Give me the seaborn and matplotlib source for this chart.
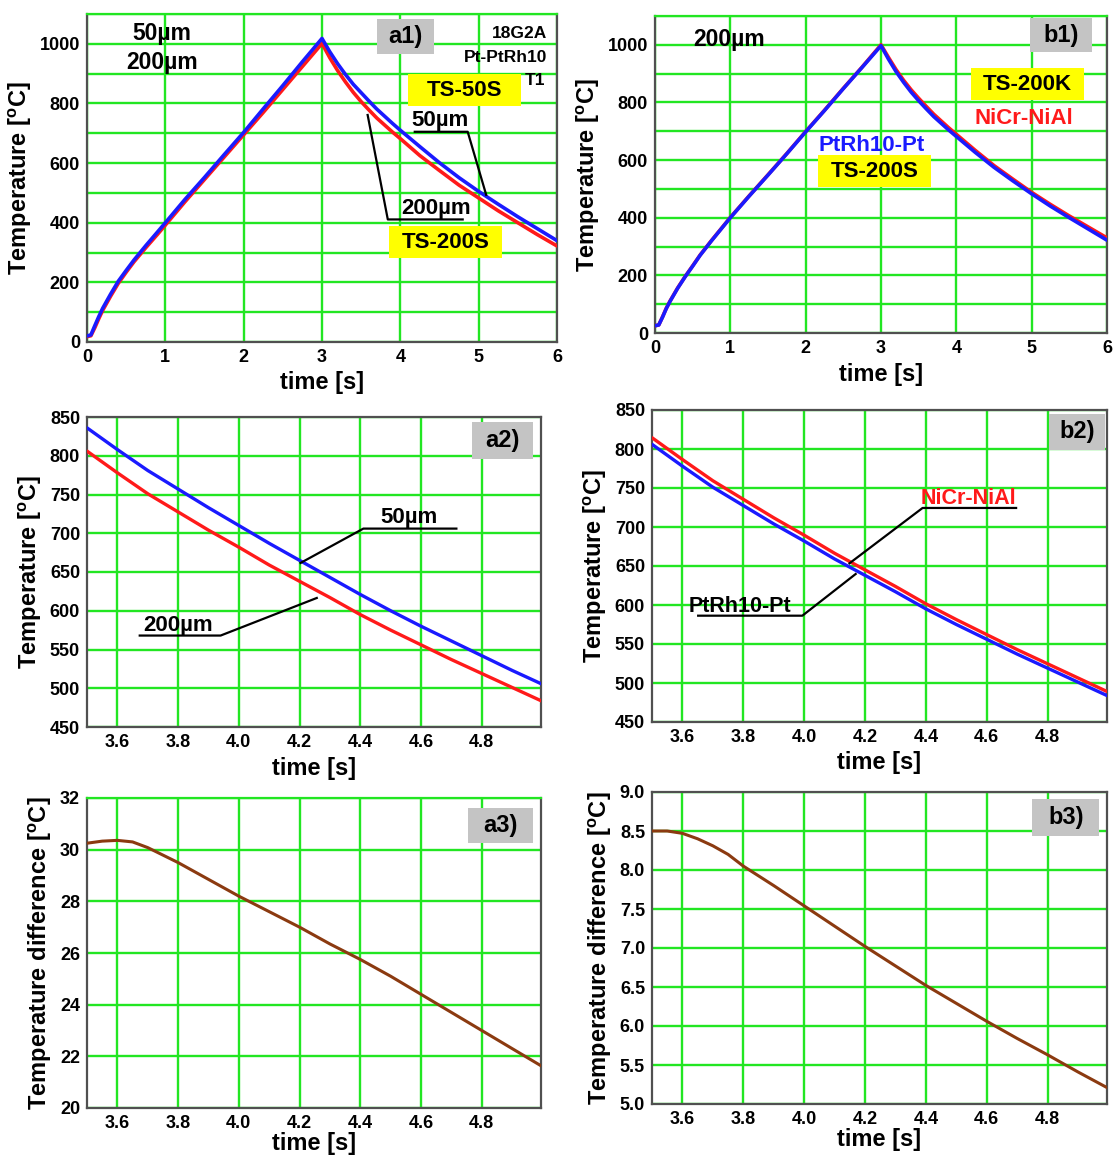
import numpy as np
import pandas as pd
import matplotlib
matplotlib.use("Agg")
import matplotlib.pyplot as plt
from matplotlib.ticker import MultipleLocator, FixedLocator, FormatStrFormatter
from matplotlib.patches import Rectangle
import seaborn as sns

sns.set_theme(style="white")
plt.rcParams['font.family'] = ['Liberation Sans', 'DejaVu Sans']
plt.rcParams['font.weight'] = 'bold'
plt.rcParams['axes.labelweight'] = 'bold'
plt.rcParams['text.color'] = 'black'
plt.rcParams['axes.labelcolor'] = 'black'
plt.rcParams['xtick.color'] = 'black'
plt.rcParams['ytick.color'] = 'black'
plt.rcParams['mathtext.fontset'] = 'custom'
plt.rcParams['mathtext.rm'] = 'Liberation Sans:bold'
plt.rcParams['mathtext.bf'] = 'Liberation Sans:bold'
plt.rcParams['mathtext.it'] = 'Liberation Sans:bold'

# ---------------- data ----------------
# full heating / cooling cycle (panels a1, b1)
time_full = [0, 0.05, 0.1, 0.15, 0.2, 0.3, 0.4, 0.5, 0.6, 0.75, 0.9, 1.0, 1.25, 1.5, 1.75,
             2.0, 2.25, 2.5, 2.75, 3.0, 3.1, 3.2, 3.3, 3.4, 3.5, 3.6, 3.7, 3.8, 3.9, 4.0,
             4.25, 4.5, 4.75, 5.0, 5.25, 5.5, 5.75, 6.0]
a1_ts50s = [20, 24, 55, 85, 113, 160, 204, 240, 275, 323, 369, 400, 478, 552, 628,
            703, 782, 860, 940, 1018, 973, 933, 897, 864, 836, 808, 781, 757, 733, 710,
            655, 601, 551, 505, 462, 420, 380, 340]
a1_ts200s = [18, 21, 48, 78, 106, 153, 197, 234, 269, 316, 361, 392, 470, 545, 620,
             695, 770, 847, 924, 1001, 953, 910, 872, 837, 806, 778, 751, 727.5, 704, 682,
             625, 575, 526, 483, 440, 400, 360, 322]
b1_ts200s = [25, 28, 55, 85, 110, 155, 195, 232, 270, 320, 368, 400, 475, 548, 622,
             698, 772, 848, 922, 997, 950, 907, 870, 836, 806, 778, 751, 727.5, 704, 682,
             627, 575, 528, 483, 440, 400, 361, 322]
b1_ts200k = [25, 28, 56, 86, 111, 156, 196, 233, 271, 321, 369, 401, 476, 549, 623,
             699, 773, 849, 923, 1000, 956, 914, 877, 844, 814.5, 786.5, 759.3, 735.5, 711.8, 689.5,
             634, 581, 534, 488, 446, 406, 368, 330]

# zoomed cooling range (panels a2, b2)
time_zoom = [3.5, 3.6, 3.7, 3.8, 3.9, 4.0, 4.1, 4.2, 4.3, 4.4, 4.5, 4.6, 4.7, 4.8, 4.9, 5.0]
a2_50um = [836, 808, 781, 757, 733, 710, 687, 665, 643, 621, 600, 580, 561, 542, 523, 505]
a2_200um = [806, 778, 751, 727.5, 704, 682, 659, 638, 617, 595, 575, 556, 537, 519, 501, 483]
b2_ptrh = [806, 778, 751, 727.5, 704, 682, 659, 638, 617, 595, 575, 556, 537, 519, 501, 483]
b2_nicr = [814.5, 786.5, 759.3, 735.5, 711.8, 689.5, 666.3, 645, 623.8, 601.5, 581.3, 562,
           542.8, 524.6, 506.4, 488.2]

# temperature differences (panels a3, b3)
time_a3 = [3.5, 3.55, 3.6, 3.65, 3.7, 3.8, 3.9, 4.0, 4.1, 4.2, 4.3, 4.4, 4.5, 4.6, 4.7, 4.8, 4.9, 5.0]
a3_diff = [30.25, 30.33, 30.36, 30.3, 30.08, 29.5, 28.85, 28.2, 27.6, 27.0, 26.35, 25.75,
           25.1, 24.4, 23.7, 23.0, 22.3, 21.6]
time_b3 = [3.5, 3.55, 3.6, 3.65, 3.7, 3.75, 3.8, 3.9, 4.0, 4.1, 4.2, 4.3, 4.4, 4.5, 4.6, 4.7, 4.8, 4.9, 5.0]
b3_diff = [8.5, 8.5, 8.47, 8.4, 8.31, 8.2, 8.05, 7.8, 7.54, 7.28, 7.02, 6.77, 6.52, 6.29,
           6.06, 5.84, 5.63, 5.41, 5.2]

# tick labels
full_xticks = [0, 1, 2, 3, 4, 5, 6]
full_yticks = [0, 200, 400, 600, 800, 1000]
zoom_xticks = [3.6, 3.8, 4.0, 4.2, 4.4, 4.6, 4.8]
zoom_yticks = [450, 500, 550, 600, 650, 700, 750, 800, 850]
a3_yticks = [20, 22, 24, 26, 28, 30, 32]
b3_yticks = [5.0, 5.5, 6.0, 6.5, 7.0, 7.5, 8.0, 8.5, 9.0]

# ---------------- styling ----------------
GRID = '#22e622'
SPINE = '#505050'
BLUE = '#1a1aff'
RED = '#ff1a1a'
BROWN = '#8b3a10'
YEL = '#ffff00'
GRAY = '#c4c4c4'
TICK_FS = 13
LAB_FS = 17
TEMP_LABEL = r'Temperature [$^{\mathbf{o}}$C]'
DIFF_LABEL = r'Temperature difference [$^{\mathbf{o}}$C]'

fig = plt.figure(figsize=(11.15, 11.6), dpi=100)
W, H = 1115.0, 1160.0


def axes_px(l, r, t, b):
    return fig.add_axes([l / W, 1 - b / H, (r - l) / W, (b - t) / H])


def style(ax, xlim, ylim, xticks, yticks, yminor=None, fmt_x=None, fmt_y=None, top_green=False):
    ax.set_xlim(*xlim)
    ax.set_ylim(*ylim)
    ax.xaxis.set_major_locator(FixedLocator(xticks))
    ax.yaxis.set_major_locator(FixedLocator(yticks))
    if yminor:
        ax.yaxis.set_minor_locator(MultipleLocator(yminor))
    if fmt_x:
        ax.xaxis.set_major_formatter(FormatStrFormatter(fmt_x))
    if fmt_y:
        ax.yaxis.set_major_formatter(FormatStrFormatter(fmt_y))
    ax.grid(which='both', color=GRID, lw=1.7)
    ax.set_axisbelow(True)
    ax.tick_params(which='both', length=0, labelsize=TICK_FS, pad=5, colors='black')
    for lab in ax.get_xticklabels() + ax.get_yticklabels():
        lab.set_fontweight('bold')
    for s in ax.spines.values():
        s.set_color(SPINE)
        s.set_linewidth(1.6)
        s.set_visible(True)
    if top_green:
        ax.spines['top'].set_color(GRID)
    ax.set_facecolor('white')


def box(ax, x0, x1, y0, y1, color, text, fs, tcolor='black'):
    ax.add_patch(Rectangle((x0, y0), x1 - x0, y1 - y0, facecolor=color, edgecolor='none', zorder=4))
    ax.text((x0 + x1) / 2, (y0 + y1) / 2, text, ha='center', va='center', fontsize=fs,
            fontweight='bold', color=tcolor, zorder=5)


def leader(ax, pts):
    xs = [p[0] for p in pts]
    ys = [p[1] for p in pts]
    ax.plot(xs, ys, color='black', lw=1.6, zorder=5, solid_capstyle='butt')


# ---------------- a1 ----------------
ax = axes_px(87, 557, 14, 342)
sns.lineplot(x=time_full, y=a1_ts200s, ax=ax, color=RED, lw=2.6, zorder=3)
sns.lineplot(x=time_full, y=a1_ts50s, ax=ax, color=BLUE, lw=2.6, zorder=3)
style(ax, (0, 6), (0, 1100), full_xticks, full_yticks, yminor=100, top_green=True)
ax.set_xlabel('time [s]', fontsize=LAB_FS, fontweight='bold')
ax.set_ylabel(TEMP_LABEL, fontsize=LAB_FS, fontweight='bold')
ax.text(0.96, 1035, '50µm', ha='center', va='center', fontsize=16.5, fontweight='bold')
ax.text(0.96, 939, '200µm', ha='center', va='center', fontsize=16.5, fontweight='bold')
box(ax, 3.70, 4.43, 965, 1083, GRAY, 'a1)', 17)
ax.text(5.87, 1035, '18G2A', ha='right', va='center', fontsize=12.5, fontweight='bold')
ax.text(5.87, 954, 'Pt-PtRh10', ha='right', va='center', fontsize=12.5, fontweight='bold')
ax.text(5.85, 877, 'T1', ha='right', va='center', fontsize=12.5, fontweight='bold')
box(ax, 4.10, 5.54, 790, 898, YEL, 'TS-50S', 16)
ax.text(4.51, 744, '50µm', ha='center', va='center', fontsize=16, fontweight='bold', zorder=5)
leader(ax, [(4.17, 705), (4.86, 705), (5.10, 490)])
ax.text(4.45, 448, '200µm', ha='center', va='center', fontsize=16, fontweight='bold', zorder=5)
leader(ax, [(4.81, 411), (3.84, 411), (3.58, 765)])
box(ax, 3.85, 5.30, 281, 388, YEL, 'TS-200S', 16)

# ---------------- b1 ----------------
ax = axes_px(655, 1107, 16, 333)
sns.lineplot(x=time_full, y=b1_ts200k, ax=ax, color=RED, lw=2.6, zorder=3)
sns.lineplot(x=time_full, y=b1_ts200s, ax=ax, color=BLUE, lw=2.6, zorder=3)
style(ax, (0, 6), (0, 1100), full_xticks, full_yticks, yminor=100, top_green=True)
ax.set_xlabel('time [s]', fontsize=LAB_FS, fontweight='bold')
ax.set_ylabel(TEMP_LABEL, fontsize=LAB_FS, fontweight='bold')
ax.text(0.98, 1017, '200µm', ha='center', va='center', fontsize=16.5, fontweight='bold')
box(ax, 4.98, 5.80, 975, 1093, GRAY, 'b1)', 17)
box(ax, 4.20, 5.69, 808, 919, YEL, 'TS-200K', 16)
ax.text(4.89, 744, 'NiCr-NiAl', ha='center', va='center', fontsize=16, fontweight='bold', color=RED, zorder=5)
ax.text(2.88, 651, 'PtRh10-Pt', ha='center', va='center', fontsize=16, fontweight='bold', color=BLUE, zorder=5)
box(ax, 2.17, 3.66, 506, 616, YEL, 'TS-200S', 16)

# ---------------- a2 ----------------
ax = axes_px(87, 541, 417, 727)
sns.lineplot(x=time_zoom, y=a2_200um, ax=ax, color=RED, lw=2.4, zorder=3)
sns.lineplot(x=time_zoom, y=a2_50um, ax=ax, color=BLUE, lw=2.4, zorder=3)
style(ax, (3.5, 4.995), (450, 850), zoom_xticks, zoom_yticks, fmt_x='%.1f')
ax.set_xlabel('time [s]', fontsize=LAB_FS, fontweight='bold')
ax.set_ylabel(TEMP_LABEL, fontsize=LAB_FS, fontweight='bold')
box(ax, 4.767, 4.97, 796, 843, GRAY, 'a2)', 17)
ax.text(4.56, 720, '50µm', ha='center', va='center', fontsize=16, fontweight='bold', zorder=5)
leader(ax, [(4.72, 706), (4.41, 706), (4.20, 661)])
ax.text(3.80, 581, '200µm', ha='center', va='center', fontsize=16, fontweight='bold', zorder=5)
leader(ax, [(3.67, 568), (3.94, 568), (4.26, 617)])

# ---------------- b2 ----------------
ax = axes_px(652, 1107, 410, 722)
sns.lineplot(x=time_zoom, y=b2_nicr, ax=ax, color=RED, lw=2.4, zorder=3)
sns.lineplot(x=time_zoom, y=b2_ptrh, ax=ax, color=BLUE, lw=2.4, zorder=3)
style(ax, (3.5, 4.995), (450, 850), zoom_xticks, zoom_yticks, fmt_x='%.1f')
ax.set_xlabel('time [s]', fontsize=LAB_FS, fontweight='bold')
ax.set_ylabel(TEMP_LABEL, fontsize=LAB_FS, fontweight='bold')
box(ax, 4.806, 4.987, 799, 845, GRAY, 'b2)', 17)
ax.text(4.54, 737, 'NiCr-NiAl', ha='center', va='center', fontsize=15.5, fontweight='bold', color=RED, zorder=5)
leader(ax, [(4.70, 724.4), (4.389, 724.4), (4.146, 652.6)])
ax.text(3.79, 598, 'PtRh10-Pt', ha='center', va='center', fontsize=15.5, fontweight='bold', zorder=5)
leader(ax, [(3.648, 586.3), (3.994, 586.3), (4.172, 640.6)])

# ---------------- a3 ----------------
ax = axes_px(87, 541, 798, 1108)
sns.lineplot(x=time_a3, y=a3_diff, ax=ax, color=BROWN, lw=2.2, zorder=3)
style(ax, (3.5, 4.995), (20, 32), zoom_xticks, a3_yticks, fmt_x='%.1f', top_green=True)
ax.set_xlabel('time [s]', fontsize=LAB_FS, fontweight='bold', labelpad=0)
ax.set_ylabel(DIFF_LABEL, fontsize=LAB_FS, fontweight='bold')
box(ax, 4.753, 4.97, 30.24, 31.62, GRAY, 'a3)', 17)

# ---------------- b3 ----------------
ax = axes_px(652, 1107, 792, 1104)
sns.lineplot(x=time_b3, y=b3_diff, ax=ax, color=BROWN, lw=2.2, zorder=3)
style(ax, (3.5, 4.995), (5.0, 9.0), zoom_xticks, b3_yticks, fmt_x='%.1f', fmt_y='%.1f')
ax.set_xlabel('time [s]', fontsize=LAB_FS, fontweight='bold', labelpad=0)
ax.set_ylabel(DIFF_LABEL, fontsize=LAB_FS, fontweight='bold')
box(ax, 4.75, 4.97, 8.44, 8.91, GRAY, 'b3)', 17)

fig.savefig('out.png', dpi=100, facecolor='white')
